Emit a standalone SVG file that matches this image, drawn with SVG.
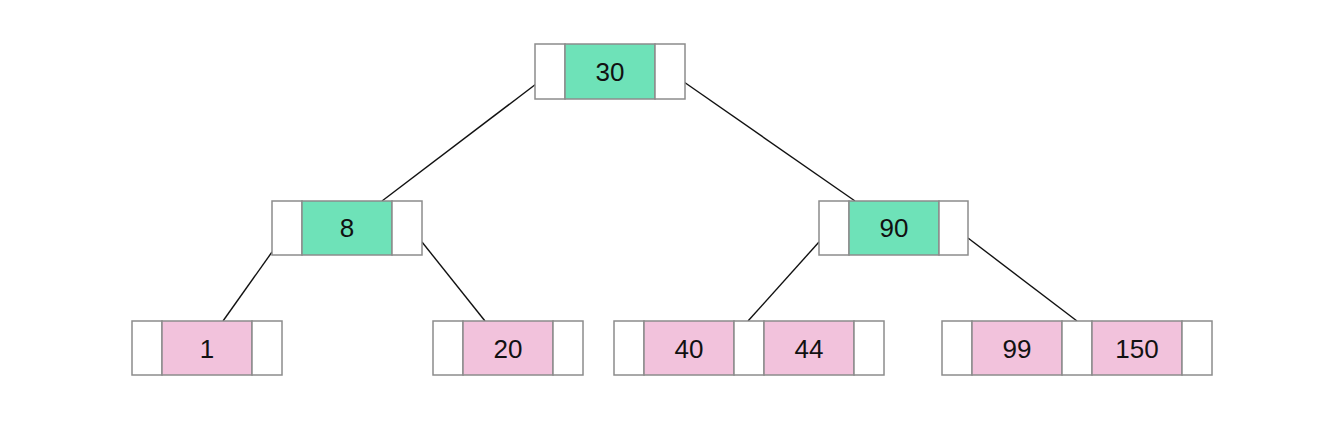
<svg xmlns="http://www.w3.org/2000/svg" width="1318" height="428" viewBox="0 0 1318 428">
<style>
.w{fill:#ffffff;stroke:#8c8c8c;stroke-width:1.5}
.g{fill:#6ee2b8;stroke:#8c8c8c;stroke-width:1.5}
.p{fill:#f2c2dc;stroke:#8c8c8c;stroke-width:1.5}
.t{font-family:"Liberation Sans",Arial,sans-serif;font-size:26px;fill:#111;text-anchor:middle;dominant-baseline:central}
.c{stroke:#111;stroke-width:1.4;fill:none}
</style>
<rect width="1318" height="428" fill="#ffffff"/>
<g id="connectors">
<line class="c" x1="536" y1="84" x2="382" y2="201"/>
<line class="c" x1="684" y1="82" x2="855" y2="201"/>
<line class="c" x1="272" y1="252" x2="223" y2="321"/>
<line class="c" x1="422" y1="242" x2="485" y2="321"/>
<line class="c" x1="819" y1="242" x2="748" y2="321"/>
<line class="c" x1="968" y1="238" x2="1077" y2="321"/>
</g>
<g id="n30">
<rect class="w" x="535" y="44" width="30" height="55"/>
<rect class="g" x="565" y="44" width="90" height="55"/>
<rect class="w" x="655" y="44" width="30" height="55"/>
<text class="t" x="610" y="72">30</text>
</g>
<g id="n8">
<rect class="w" x="272" y="201" width="30" height="54"/>
<rect class="g" x="302" y="201" width="90" height="54"/>
<rect class="w" x="392" y="201" width="30" height="54"/>
<text class="t" x="347" y="228">8</text>
</g>
<g id="n90">
<rect class="w" x="819" y="201" width="30" height="54"/>
<rect class="g" x="849" y="201" width="90" height="54"/>
<rect class="w" x="939" y="201" width="29" height="54"/>
<text class="t" x="894" y="228">90</text>
</g>
<g id="n1">
<rect class="w" x="132" y="321" width="30" height="54"/>
<rect class="p" x="162" y="321" width="90" height="54"/>
<rect class="w" x="252" y="321" width="30" height="54"/>
<text class="t" x="207" y="349">1</text>
</g>
<g id="n20">
<rect class="w" x="433" y="321" width="30" height="54"/>
<rect class="p" x="463" y="321" width="90" height="54"/>
<rect class="w" x="553" y="321" width="30" height="54"/>
<text class="t" x="508" y="349">20</text>
</g>
<g id="n40_44">
<rect class="w" x="614" y="321" width="30" height="54"/>
<rect class="p" x="644" y="321" width="90" height="54"/>
<rect class="w" x="734" y="321" width="30" height="54"/>
<rect class="p" x="764" y="321" width="90" height="54"/>
<rect class="w" x="854" y="321" width="30" height="54"/>
<text class="t" x="689" y="349">40</text>
<text class="t" x="809" y="349">44</text>
</g>
<g id="n99_150">
<rect class="w" x="942" y="321" width="30" height="54"/>
<rect class="p" x="972" y="321" width="90" height="54"/>
<rect class="w" x="1062" y="321" width="30" height="54"/>
<rect class="p" x="1092" y="321" width="90" height="54"/>
<rect class="w" x="1182" y="321" width="30" height="54"/>
<text class="t" x="1017" y="349">99</text>
<text class="t" x="1137" y="349">150</text>
</g>
</svg>
